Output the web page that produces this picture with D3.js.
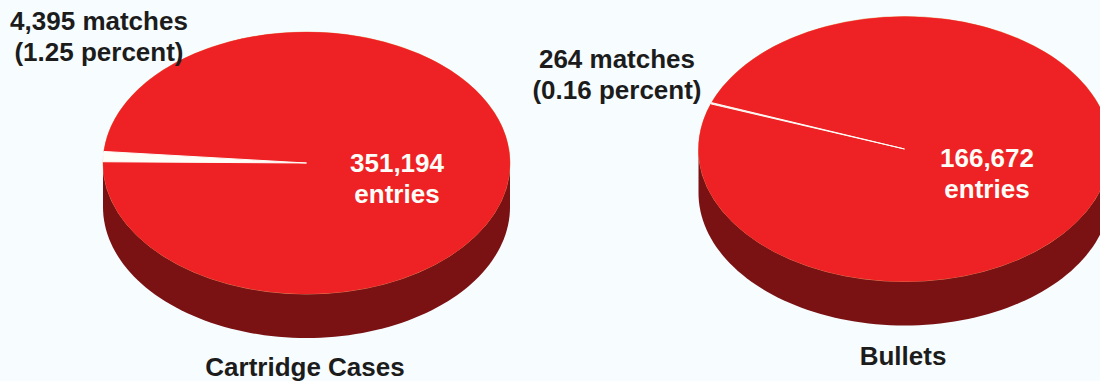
<!DOCTYPE html>
<html>
<head>
<meta charset="utf-8">
<script src="https://cdn.jsdelivr.net/npm/d3@7/dist/d3.min.js"></script>
<style>
  html, body { margin: 0; padding: 0; background: #f7fcff; }
  svg { display: block; }
  text { font-family: "Liberation Sans", Arial, sans-serif; font-weight: bold; }
</style>
</head>
<body>
<svg id="chart" width="1100" height="381"></svg>
<script>
// Database entries and hits for each evidence type
const pieTitles = ["Cartridge Cases", "Bullets"];
const entryCounts = [351194, 166672];
const matchCounts = [4395, 264];
const percentLabels = ["1.25", "0.16"];

const width = 1100, height = 381;
const svg = d3.select("#chart");

// Layout of each tilted disc
const centerX = [306.5, 904.5];
const centerY = [163, 149];
const radiusX = [203.5, 206];
const radiusY = [131, 132.5];
const depth = 44;
// Direction of the middle of the match slice, measured clockwise from 12 o'clock
const sliceMidDeg = [272.8, 290.2];
// Label anchor points
const matchLabelX = [99, 617];
const matchLabelY = [30, 68];
const entryLabelX = [397, 987];
const entryLabelY = [172, 167];
const titleX = [305, 903];
const titleY = [376, 365];

const RED = "#ee2225", DARK = "#7a1214", PALE = "#fffdf8", INK = "#1c1c1c", EDGE = "#e9a06a";
const FONT = 26;
const LINE = 30.5;
const UNIT = 100;

const commas = d3.format(",");

pieTitles.forEach((title, i) => {
  const matched = matchCounts[i], total = entryCounts[i];
  const sweep = matched / total * 2 * Math.PI;
  const mid = sliceMidDeg[i] * Math.PI / 180;

  const pie = d3.pie().sort(null).value(d => d)
    .startAngle(mid - sweep / 2).endAngle(mid - sweep / 2 + 2 * Math.PI);
  const slices = pie([matched, total - matched]);

  const x = d3.scaleLinear().domain([-1, 1]).range([centerX[i] - radiusX[i], centerX[i] + radiusX[i]]);
  const y = d3.scaleLinear().domain([-1, 1]).range([centerY[i] - radiusY[i], centerY[i] + radiusY[i]]);

  const g = svg.append("g");

  // Rim: the lower half of the disc outline swept down by the depth
  const rim = d3.path();
  rim.moveTo(x(-1), y(0));
  rim.lineTo(x(-1), y(0) + depth);
  d3.range(180, -1, -2).forEach(a => {
    const t = a * Math.PI / 180;
    rim.lineTo(x(Math.cos(t)), y(Math.sin(t)) + depth);
  });
  rim.lineTo(x(1), y(0));
  rim.closePath();
  g.append("path").attr("d", rim.toString()).attr("fill", DARK);

  // Top face: a pie squeezed into the ellipse, with a thin warm line around it
  const arc = d3.arc().innerRadius(0).outerRadius(UNIT);
  const face = g.append("g")
    .attr("transform", `translate(${centerX[i]},${centerY[i]}) scale(${radiusX[i] / UNIT},${radiusY[i] / UNIT})`);
  face.append("circle").attr("r", UNIT)
    .attr("fill", RED)
    .attr("stroke", EDGE).attr("stroke-width", 1).attr("stroke-opacity", 0.75)
    .attr("vector-effect", "non-scaling-stroke");
  face.selectAll("path").data(slices).join("path")
    .attr("d", arc)
    .attr("fill", (d, k) => k === 0 ? PALE : RED)
    .attr("stroke", (d, k) => k === 0 ? PALE : "none")
    .attr("stroke-width", 1)
    .attr("vector-effect", "non-scaling-stroke");
  // Keep the pale slice on top of its red neighbour
  face.selectAll("path").filter((d, k) => k === 0).raise();

  // Labels
  g.append("text").attr("x", titleX[i]).attr("y", titleY[i])
    .attr("text-anchor", "middle").attr("font-size", FONT).attr("fill", INK).text(title);

  const matchText = g.append("text").attr("text-anchor", "middle")
    .attr("font-size", FONT).attr("fill", INK);
  matchText.append("tspan").attr("x", matchLabelX[i]).attr("y", matchLabelY[i])
    .text(`${commas(matched)} matches`);
  matchText.append("tspan").attr("x", matchLabelX[i]).attr("y", matchLabelY[i] + LINE)
    .text(`(${percentLabels[i]} percent)`);

  const entryText = g.append("text").attr("text-anchor", "middle")
    .attr("font-size", FONT).attr("fill", PALE);
  entryText.append("tspan").attr("x", entryLabelX[i]).attr("y", entryLabelY[i])
    .text(commas(total));
  entryText.append("tspan").attr("x", entryLabelX[i]).attr("y", entryLabelY[i] + LINE)
    .text("entries");
});
</script>
</body>
</html>
